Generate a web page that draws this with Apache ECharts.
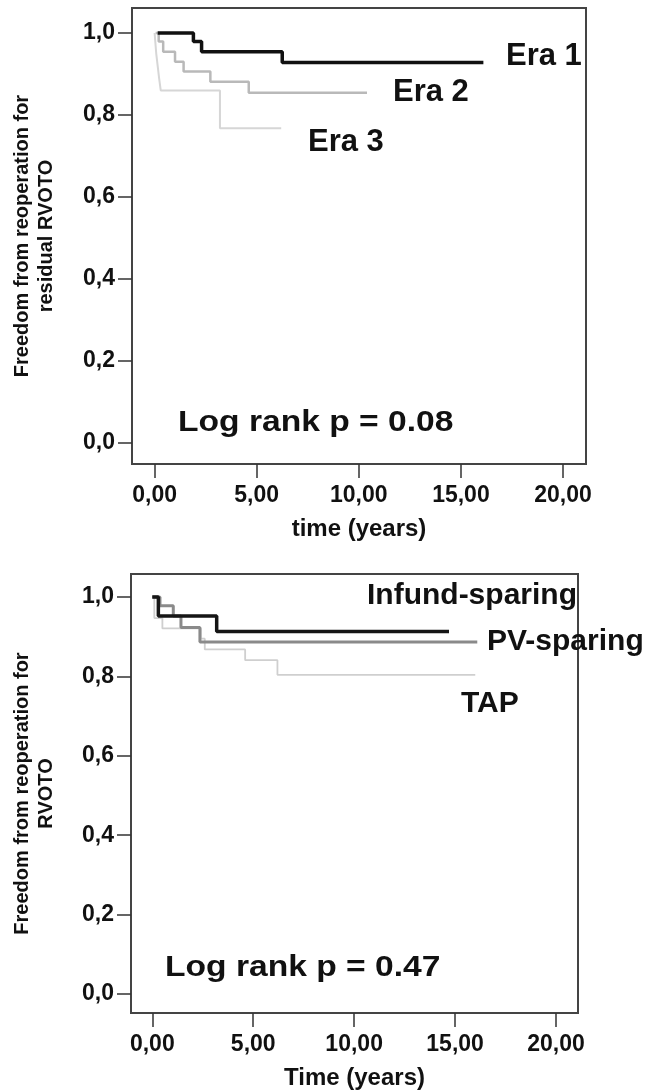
<!DOCTYPE html>
<html>
<head>
<meta charset="utf-8">
<script src="https://cdn.jsdelivr.net/npm/echarts@6/dist/echarts.min.js"></script>
<style>
html,body{margin:0;padding:0;background:#fff;}
#chart{width:646px;height:1092px;}
</style>
</head>
<body>
<div id="chart"></div>
<script>
// ---- Data (Kaplan-Meier step curves: time in years, survival fraction) ----
const era1Times = [0.15, 1.9, 2.3, 6.25, 16.1];
const era1Surv  = [1.0, 0.979, 0.954, 0.928, 0.928];

const era2Times = [0.05, 0.2, 0.42, 1.0, 1.42, 2.73, 4.61, 10.4];
const era2Surv  = [1.0, 0.979, 0.954, 0.930, 0.906, 0.881, 0.854, 0.854];

const era3Times = [0.0, 0.08, 0.15, 0.22, 0.3, 3.2, 6.2];
const era3Surv  = [1.0, 0.95, 0.92, 0.89, 0.86, 0.768, 0.768];

const infTimes = [0.0, 0.3, 3.19, 14.7];
const infSurv  = [1.0, 0.952, 0.913, 0.913];

const pvTimes = [0.0, 0.38, 1.04, 1.42, 2.36, 16.1];
const pvSurv  = [1.0, 0.978, 0.952, 0.923, 0.887, 0.887];

const tapTimes = [0.0, 0.1, 0.5, 2.4, 2.6, 4.6, 6.2, 16.0];
const tapSurv  = [1.0, 0.947, 0.921, 0.895, 0.868, 0.841, 0.804, 0.804];

const yTicks = [0, 0.2, 0.4, 0.6, 0.8, 1.0];
const xTicks = [0, 5, 10, 15, 20];

const topYTitle = 'Freedom from reoperation for\nresidual RVOTO';
const topXTitle = 'time (years)';
const botYTitle = 'Freedom from reoperation for\nRVOTO';
const botXTitle = 'Time (years)';
const topLabels = ['Era 1', 'Era 2', 'Era 3'];
const botLabels = ['Infund-sparing', 'PV-sparing', 'TAP'];
const topP = 'Log rank p = 0.08';
const botP = 'Log rank p = 0.47';

// ---- helpers ----
const FONT = '"Liberation Sans", Arial, sans-serif';
const pairs = (t, s) => t.map((v, i) => [v, s[i]]);
const ink = '#111';

function yAx(gridIndex, min, max, name, nameGap) {
  return {
    type: 'value', gridIndex, min, max,
    axisLine: {show: false, onZero: false},
    axisTick: {show: true, inside: false, length: 14, customValues: yTicks, lineStyle: {color: '#333', width: 1.5}},
    axisLabel: {margin: 17, color: ink, fontFamily: FONT, fontWeight: 'bold', fontSize: 23, customValues: yTicks,
      formatter: v => v.toFixed(1).replace('.', ',')},
    splitLine: {show: false},
    name, nameLocation: 'middle', nameRotate: 90, nameGap,
    nameTextStyle: {color: ink, fontFamily: FONT, fontWeight: 'bold', fontSize: 20, lineHeight: 24, align: 'center'}
  };
}
function xAx(gridIndex, min, max, name, nameGap) {
  return {
    type: 'value', gridIndex, min, max,
    axisLine: {show: false, onZero: false},
    axisTick: {show: true, inside: false, length: 14, customValues: xTicks, lineStyle: {color: '#333', width: 1.5}},
    axisLabel: {margin: 20, color: ink, fontFamily: FONT, fontWeight: 'bold', fontSize: 23, customValues: xTicks,
      formatter: v => v.toFixed(2).replace('.', ',')},
    splitLine: {show: false},
    name, nameLocation: 'middle', nameGap,
    nameTextStyle: {color: ink, fontFamily: FONT, fontWeight: 'bold', fontSize: 24}
  };
}

function km(name, idx, t, s, color, width) {
  return {
    name, type: 'line', xAxisIndex: idx, yAxisIndex: idx, step: 'end',
    data: pairs(t, s), symbol: 'none', silent: true, animation: false,
    lineStyle: {color, width}
  };
}
function label(text, x, y, size, sx) {
  return {type: 'text', x, y, scaleX: sx || 1, silent: true,
    style: {text, font: 'bold ' + size + 'px ' + FONT, fill: ink, verticalAlign: 'middle', align: 'left'}};
}

const option = {
  animation: false,
  backgroundColor: '#fff',
  grid: [
    {left: 132, top: 8, width: 454, height: 456, show: true, borderColor: '#444', borderWidth: 2, backgroundColor: '#fff',
     containLabel: false, outerBoundsMode: 'none'},
    {left: 131, top: 574, width: 447, height: 439, show: true, borderColor: '#444', borderWidth: 2, backgroundColor: '#fff',
     containLabel: false, outerBoundsMode: 'none'}
  ],
  xAxis: [
    xAx(0, -1.107, 21.125, topXTitle, 53),
    xAx(1, -1.055, 21.09, botXTitle, 53)
  ],
  yAxis: [
    yAx(0, -0.0512, 1.061, topYTitle, 74),
    yAx(1, -0.0479, 1.058, botYTitle, 73)
  ],
  series: [
    km('Era 3', 0, era3Times, era3Surv, '#d6d6d6', 2),
    km('Era 2', 0, era2Times, era2Surv, '#b9b9b9', 2.5),
    km('Era 1', 0, era1Times, era1Surv, '#111', 3.5),
    km('TAP', 1, tapTimes, tapSurv, '#cfcfcf', 1.8),
    km('PV-sparing', 1, pvTimes, pvSurv, '#8a8a8a', 3),
    km('Infund-sparing', 1, infTimes, infSurv, '#151515', 3.5)
  ],
  graphic: [
    label(topLabels[0], 506, 56, 31),
    label(topLabels[1], 393, 92, 31),
    label(topLabels[2], 308, 142, 31),
    label(topP, 178, 423, 30, 1.12),
    label(botLabels[0], 367, 596, 30),
    label(botLabels[1], 487, 642, 30),
    label(botLabels[2], 461, 704, 30),
    label(botP, 165, 968, 30, 1.12)
  ]
};

const chart = echarts.init(document.getElementById('chart'), null, {renderer: 'canvas'});
chart.setOption(option);
</script>
</body>
</html>
